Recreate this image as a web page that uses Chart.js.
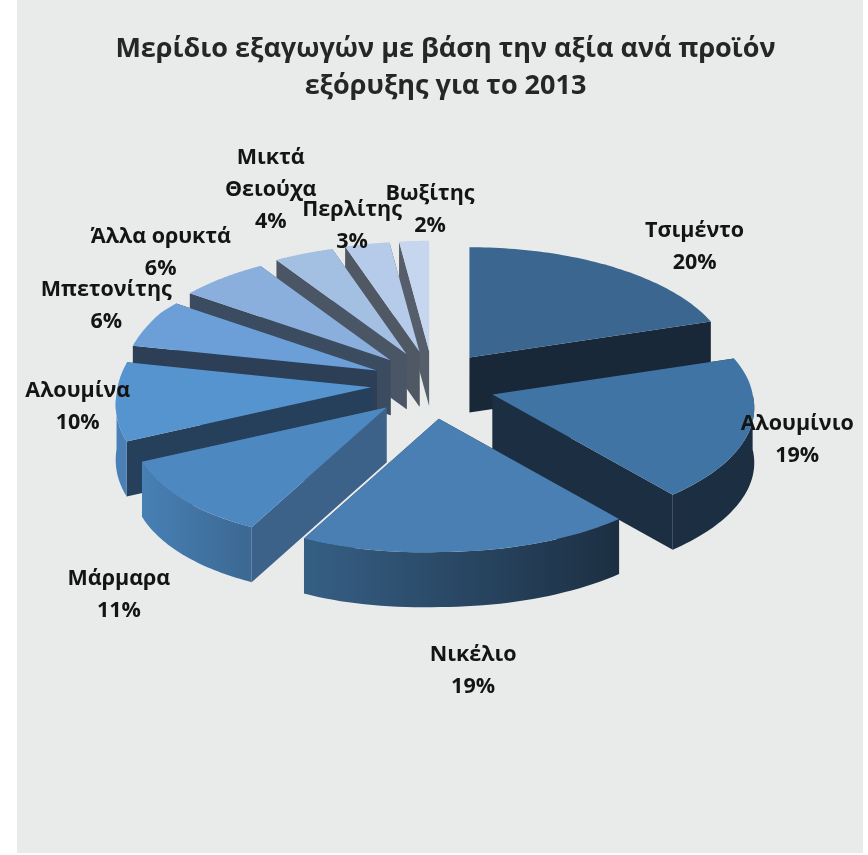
<!DOCTYPE html>
<html>
<head>
<meta charset="utf-8">
<title>Μερίδιο εξαγωγών</title>
<script src="https://cdn.jsdelivr.net/npm/chart.js@4"></script>
<style>
    html, body { margin: 0; padding: 0; background: #fff; overflow: hidden; }
    #panel { position: absolute; left: 17px; top: 0; width: 846px; height: 853px; background: #e9ebeb; }
    #chart { position: absolute; left: 23px; top: 0; }
</style>
</head>
<body>
<div id="panel"></div>
<canvas id="chart" width="845" height="855"></canvas>
<script>
var categories = ['Τσιμέντο', 'Αλουμίνιο', 'Νικέλιο', 'Μάρμαρα', 'Αλουμίνα', 'Μπετονίτης', 'Άλλα ορυκτά', 'Μικτά|Θειούχα', 'Περλίτης', 'Βωξίτης'];
var shares = [20, 19, 19, 11, 10, 6, 6, 4, 3, 2];

var topColors = ['#3a668f', '#4074a5', '#4a7fb3', '#4e88c1', '#5594cf', '#6c9fd8', '#8bafdd', '#a3bfe2', '#b6cbe9', '#c7d6ef'];
var sideColors = ['#182838', '#1c2f42', '#1c2f42', '#3c628a', '#263f5a', '#2c3f56', '#3c4c60', '#4a5566', '#4f5863', '#565e6b'];
var rimLeft = ['#182838', '#1c2f42', '#365f85', '#4780b5', '#4a80b5', '#2c3f56', '#3c4c60', '#4a5566', '#4f5863', '#565e6b'];
var rimRight = ['#182838', '#1c2f42', '#1c2f42', '#3c6892', '#4a80b5', '#2c3f56', '#3c4c60', '#4a5566', '#4f5863', '#565e6b'];

// label centre relative to the middle of each slice's outer edge
var labelNudge = [[82, -20], [47, 11], [7, 120], [-64, 95], [-38, 5], [-44, -17], [-62, -25], [-33, -64], [-15, -18], [16, -31]];

var pieX = 410, pieY = 385;   // centre on the canvas
var tilt = 0.46;              // vertical squash of the disc
var explodeX = 62, explodeY = 34;
var depth = 55;

function apexOf(arc) {
    var mid = (arc.startAngle + arc.endAngle) / 2;
    return { x: pieX + explodeX * Math.cos(mid), y: pieY + explodeY * Math.sin(mid) };
}

// rough perspective: the near side of the disc is drawn larger,
// the front left bulge sits a bit lower and tighter than a true ellipse
function rimPoint(arc, a) {
    var apex = apexOf(arc);
    var s = Math.sin(a);
    var deg = a * 180 / Math.PI;
    var bump = (deg > 90 && deg < 210) ? Math.sin(1.5 * (a - Math.PI / 2)) : 0;
    var r = arc.outerRadius * (1.02 + (s > 0 ? 0.115 : 0.08) * s) * (1 - 0.03 * bump);
    return { x: apex.x + r * Math.cos(a), y: apex.y + tilt * r * s + 10 * bump };
}

function traceTop(ctx, arc) {
    var apex = apexOf(arc);
    ctx.beginPath();
    ctx.moveTo(apex.x, apex.y);
    for (var i = 0; i <= 60; i++) {
        var p = rimPoint(arc, arc.startAngle + (arc.endAngle - arc.startAngle) * i / 60);
        ctx.lineTo(p.x, p.y);
    }
    ctx.closePath();
}

function drawRadialWall(ctx, arc, a, color) {
    var apex = apexOf(arc), p = rimPoint(arc, a);
    ctx.beginPath();
    ctx.moveTo(apex.x, apex.y);
    ctx.lineTo(p.x, p.y);
    ctx.lineTo(p.x, p.y + depth);
    ctx.lineTo(apex.x, apex.y + depth);
    ctx.closePath();
    ctx.fillStyle = color;
    ctx.fill();
}

function drawRimWall(ctx, arc, left, right) {
    var from = Math.max(arc.startAngle, 0), to = Math.min(arc.endAngle, Math.PI);
    if (to <= from) return;
    var pts = [];
    for (var i = 0; i <= 40; i++) pts.push(rimPoint(arc, from + (to - from) * i / 40));
    ctx.beginPath();
    pts.forEach(function (p, i) { i ? ctx.lineTo(p.x, p.y) : ctx.moveTo(p.x, p.y); });
    pts.slice().reverse().forEach(function (p) { ctx.lineTo(p.x, p.y + depth); });
    ctx.closePath();
    // angles run clockwise, so the last point is the leftmost one
    var grad = ctx.createLinearGradient(pts[40].x, 0, pts[0].x, 0);
    grad.addColorStop(0, left);
    grad.addColorStop(1, right);
    ctx.fillStyle = grad;
    ctx.fill();
}

var pie3d = {
    id: 'pie3d',
    beforeDatasetsDraw: function (chart) {
        var ctx = chart.ctx;
        var arcs = chart.getDatasetMeta(0).data.map(function (arc, i) { return { arc: arc, i: i }; });
        // paint far slices first
        arcs.sort(function (a, b) { return apexOf(a.arc).y - apexOf(b.arc).y; });
        ctx.save();
        arcs.forEach(function (o) {
            drawRadialWall(ctx, o.arc, o.arc.startAngle, sideColors[o.i]);
            drawRadialWall(ctx, o.arc, o.arc.endAngle, sideColors[o.i]);
            drawRimWall(ctx, o.arc, rimLeft[o.i], rimRight[o.i]);
            traceTop(ctx, o.arc);
            ctx.fillStyle = topColors[o.i];
            ctx.fill();
        });
        ctx.restore();
        return false;
    },
    afterDraw: function (chart) {
        var ctx = chart.ctx;
        ctx.save();
        ctx.font = 'bold 21.5px "Open Sans", sans-serif';
        ctx.fillStyle = '#141414';
        ctx.textAlign = 'center';
        ctx.textBaseline = 'middle';
        chart.getDatasetMeta(0).data.forEach(function (arc, i) {
            var p = rimPoint(arc, (arc.startAngle + arc.endAngle) / 2);
            var lines = categories[i].split('|').concat(shares[i] + '%');
            var x = p.x + labelNudge[i][0];
            var y = p.y + labelNudge[i][1] - (lines.length - 1) * 16;
            lines.forEach(function (t, n) { ctx.fillText(t, x, y + n * 32); });
        });
        ctx.restore();
    }
};

new Chart(document.getElementById('chart'), {
    type: 'pie',
    data: {
        labels: categories,
        datasets: [{ data: shares, backgroundColor: topColors, radius: 255, borderWidth: 0 }]
    },
    options: {
        responsive: false,
        animation: false,
        plugins: {
            legend: { display: false },
            tooltip: { enabled: false },
            title: {
                display: true,
                text: ['Μερίδιο εξαγωγών με βάση την αξία ανά προϊόν', 'εξόρυξης για το 2013'],
                color: '#262626',
                font: { family: '"Open Sans", sans-serif', size: 27, weight: 'bold', lineHeight: 1.37 },
                padding: { top: 31, bottom: 8 }
            }
        }
    },
    plugins: [pie3d]
});
</script>
</body>
</html>
